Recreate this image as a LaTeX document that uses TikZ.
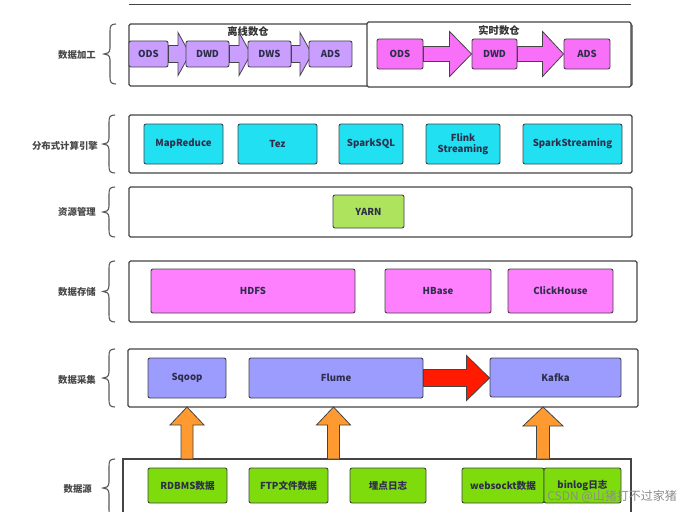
\documentclass[tikz,border=0pt]{standalone}
\usepackage{fontspec}
\setmainfont{Noto Sans CJK SC}
\usetikzlibrary{calc}
\definecolor{purpO}{HTML}{C99EFF}
\definecolor{magR}{HTML}{F870F8}
\definecolor{pinkS}{HTML}{FF80FF}
\definecolor{cyanC}{HTML}{20E0F2}
\definecolor{yarnC}{HTML}{AEE35E}
\definecolor{colC}{HTML}{9C9CFF}
\definecolor{srcC}{HTML}{7EDC0C}
\definecolor{orangeA}{HTML}{FF9A30}
\definecolor{redA}{HTML}{FF1A00}
\definecolor{txtC}{HTML}{2E2E4A}
\definecolor{edgeC}{HTML}{444444}
\newcommand\mybrace[3]{%
  \draw[bracestyle] ({#1+12},{#2}) .. controls ({#1+7},{#2}) and ({#1+6},{#2+2}) .. ({#1+6},{#2+7})
    -- ({#1+6},{(#2+#3)/2-6}) .. controls ({#1+6},{(#2+#3)/2-1}) and ({#1+3},{(#2+#3)/2}) .. ({#1},{(#2+#3)/2})
    .. controls ({#1+3},{(#2+#3)/2}) and ({#1+6},{(#2+#3)/2+1}) .. ({#1+6},{(#2+#3)/2+6})
    -- ({#1+6},{#3-7}) .. controls ({#1+6},{#3-2}) and ({#1+7},{#3}) .. ({#1+12},{#3});}
\newcommand\harrow[6]{%
  \filldraw[#1] let \p1=(#2), \p2=(#3) in
    (\x1,\y1+#4pt) -- (\x2-#6pt,\y1+#4pt) -- (\x2-#6pt,\y1+#5pt) -- (\x2,\y1)
    -- (\x2-#6pt,\y1-#5pt) -- (\x2-#6pt,\y1-#4pt) -- (\x1,\y1-#4pt) -- cycle;}
\newcommand\varrow[6]{%
  \filldraw[#1] let \p1=(#2), \p2=(#3) in
    (\x2-#4pt,\y1) -- (\x2-#4pt,\y2-#6pt) -- (\x2-#5pt,\y2-#6pt) -- (\x2,\y2)
    -- (\x2+#5pt,\y2-#6pt) -- (\x2+#4pt,\y2-#6pt) -- (\x2+#4pt,\y1) -- cycle;}
\begin{document}
\begin{tikzpicture}[x=1pt,y=-1pt,
  layer/.style={draw=edgeC, line width=1.1pt, rounded corners=1.5pt, fill=white, inner sep=0pt},
  blk/.style={draw=edgeC, line width=0.9pt, rounded corners=2pt, inner sep=1pt,
    font=\bfseries\fontsize{9.6}{11}\selectfont, text=txtC, align=center},
  lbl/.style={anchor=east, inner sep=0pt, font=\bfseries\fontsize{9.4}{11}\selectfont, text=black!72},
  ttl/.style={inner sep=0pt, font=\bfseries\fontsize{10.3}{11}\selectfont, text=black!80},
  bracestyle/.style={draw=black!65, line width=1.1pt},
  parr/.style={fill=purpO, draw=edgeC, line width=0.8pt},
  marr/.style={fill=magR, draw=edgeC, line width=0.8pt},
  rarr/.style={fill=redA, draw=edgeC, line width=0.8pt},
  oarr/.style={fill=orangeA, draw=edgeC, line width=0.8pt}]
\useasboundingbox (0,0) rectangle (684,511);
\fill[white] (0,0) rectangle (684,511);

% cropped layer above
\draw[edgeC, line width=1pt] (129,5) -- (631,5);

% ---------- layer frames ----------
\node[layer, minimum width=503pt, minimum height=62pt] (Lproc) at (380.5,55) {};
\node[layer, line width=1.3pt, minimum width=264pt, minimum height=65pt] (Lrt) at (499,54.5) {};
\node[layer, minimum width=503pt, minimum height=58pt] (Lcmp) at (380.5,144) {};
\node[layer, minimum width=503pt, minimum height=50pt] (Lres) at (380.5,212) {};
\node[layer, minimum width=508pt, minimum height=61pt] (Lsto) at (383,291.5) {};
\node[layer, minimum width=510pt, minimum height=58pt] (Lcol) at (383,378) {};
\draw[edgeC, line width=1.1pt] (123,515) -- (123,459) coordinate (Lsrcnw) -- (631,459) coordinate (Lsrcne) -- (631,515);

% ---------- braces and labels ----------
\mybrace{104}{24}{84}
\mybrace{103}{115}{173}
\mybrace{103}{187}{237}
\mybrace{103}{261}{322}
\mybrace{103}{349}{407}
\mybrace{103}{459}{517}
\node[lbl] (t1) at (96,55) {数据加工};
\node[lbl] (t2) at (98,146) {分布式计算引擎};
\node[lbl] (t3) at (96,212) {资源管理};
\node[lbl] (t4) at (96,292) {数据存储};
\node[lbl] (t5) at (96,380) {数据采集};
\node[lbl] (t6) at (92,489) {数据源};

% ---------- data processing ----------
\node[ttl] (offt) at (248,32) {离线数仓};
\node[ttl] (rtt) at (499,31) {实时数仓};
\coordinate (dwdin) at (190,54);
\coordinate (dwsin) at (251,54);
\coordinate (adsin) at (312,54);
\node[blk, fill=purpO, minimum width=39pt, minimum height=26pt] (ods) at (148.5,54) {ODS};
\harrow{parr}{ods.east}{dwdin}{8.5}{21.5}{12}
\node[blk, fill=purpO, minimum width=43pt, minimum height=26pt] (dwd) at (207.5,54) {DWD};
\harrow{parr}{dwd.east}{dwsin}{8.5}{21.5}{12}
\node[blk, fill=purpO, minimum width=43pt, minimum height=26pt] (dws) at (269.5,54) {DWS};
\harrow{parr}{dws.east}{adsin}{8.5}{21.5}{12}
\node[blk, fill=purpO, minimum width=43pt, minimum height=26pt] (ads) at (330.5,54) {ADS};

\node[blk, fill=magR, minimum width=46pt, minimum height=30pt] (rods) at (400,54) {ODS};
\node[blk, fill=magR, minimum width=45pt, minimum height=30pt] (rdwd) at (494.5,54) {DWD};
\node[blk, fill=magR, minimum width=46pt, minimum height=30pt] (rads) at (587,54) {ADS};
\harrow{marr}{rods.east}{rdwd.west}{7.5}{22.5}{22}
\harrow{marr}{rdwd.east}{rads.west}{7.5}{22.5}{21}

% ---------- compute ----------
\node[blk, fill=cyanC, minimum width=79pt, minimum height=40pt] (mr) at (183.5,144) {MapReduce};
\node[blk, fill=cyanC, minimum width=79pt, minimum height=40pt] (tez) at (277.5,144) {Tez};
\node[blk, fill=cyanC, minimum width=64pt, minimum height=40pt] (ssql) at (371,144) {SparkSQL};
\node[blk, fill=cyanC, minimum width=74pt, minimum height=40pt] (flink) at (463,144) {Flink\\Streaming};
\node[blk, fill=cyanC, minimum width=99pt, minimum height=40pt] (sstr) at (572.5,144) {SparkStreaming};

% ---------- resource ----------
\node[blk, fill=yarnC, minimum width=71pt, minimum height=33pt] (yarn) at (368.5,211.5) {YARN};

% ---------- storage ----------
\node[blk, fill=pinkS, minimum width=204pt, minimum height=44pt] (hdfs) at (253,291) {HDFS};
\node[blk, fill=pinkS, minimum width=106pt, minimum height=44pt] (hbase) at (438,291) {HBase};
\node[blk, fill=pinkS, minimum width=105pt, minimum height=44pt] (ch) at (560.5,291) {ClickHouse};

% ---------- collection ----------
\node[blk, fill=colC, minimum width=78pt, minimum height=40pt] (sqoop) at (187,378) {Sqoop};
\node[blk, fill=colC, minimum width=174pt, minimum height=40pt] (flume) at (336,378) {Flume};
\node[blk, fill=colC, minimum width=131pt, minimum height=39pt] (kafka) at (555.5,377.5) {Kafka};
\harrow{rarr}{flume.east}{kafka.west}{8.5}{22.5}{23}

% ---------- source ----------
\node[blk, fill=srcC, minimum width=79pt, minimum height=35pt] (rdb) at (187.5,485.5) {RDBMS数据};
\node[blk, fill=srcC, minimum width=79pt, minimum height=35pt] (ftp) at (288.5,485.5) {FTP文件数据};
\node[blk, fill=srcC, minimum width=76pt, minimum height=35pt] (mdl) at (388,485.5) {埋点日志};
\node[blk, fill=srcC, minimum width=82pt, minimum height=35pt] (ws) at (503,485.5) {websockt数据};
\node[blk, fill=srcC, minimum width=77pt, minimum height=35pt] (binlog) at (582.5,485.5) {binlog日志};

% ---------- orange arrows ----------
\coordinate (o1b) at (187,459); \coordinate (o1t) at (187,407);
\coordinate (o2b) at (333.5,459); \coordinate (o2t) at (333.5,407);
\coordinate (o3b) at (543,459); \coordinate (o3t) at (543,407);
\varrow{oarr}{o1b}{o1t}{6}{17}{18}
\varrow{oarr}{o2b}{o2t}{6}{17}{18}
\varrow{oarr}{o3b}{o3t}{6.5}{20}{19}

% watermark
\node[anchor=east, inner sep=0pt, text=black!45, font=\fontsize{12}{13}\selectfont] (wm) at (677,496) {CSDN @山猪打不过家猪};
\end{tikzpicture}
\end{document}
